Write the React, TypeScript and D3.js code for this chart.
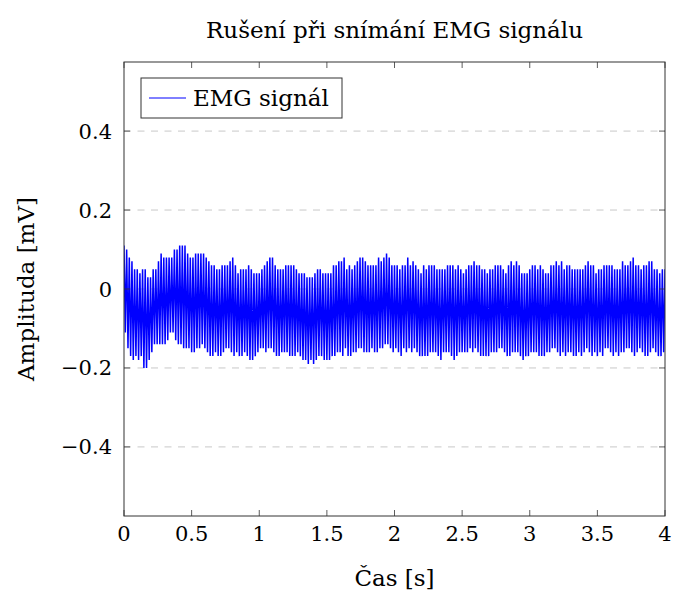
import React from 'react';
import * as d3 from 'd3';

// upper peaks of each 50 Hz cycle [mV]
const peaksTop = [
  0.11, 0.10, 0.08, 0.07, 0.05, 0.05, 0.04, 0.05, 0.05, 0.03, 0.03, 0.05, 0.05, 0.07, 0.09, 0.08, 0.08,
  0.08, 0.08, 0.10, 0.10, 0.11, 0.11, 0.11, 0.09, 0.08, 0.08, 0.09, 0.09, 0.09, 0.09, 0.08, 0.07, 0.06,
  0.06, 0.05, 0.05, 0.06, 0.06, 0.06, 0.07, 0.08, 0.06, 0.04, 0.05, 0.05, 0.05, 0.06, 0.05, 0.04, 0.04,
  0.04, 0.05, 0.06, 0.07, 0.08, 0.08, 0.06, 0.05, 0.05, 0.05, 0.06, 0.06, 0.06, 0.06, 0.05, 0.04, 0.04,
  0.04, 0.03, 0.03, 0.03, 0.04, 0.05, 0.05, 0.04, 0.04, 0.04, 0.04, 0.06, 0.06, 0.07, 0.07, 0.08, 0.05,
  0.06, 0.05, 0.06, 0.07, 0.08, 0.08, 0.07, 0.06, 0.06, 0.06, 0.06, 0.08, 0.07, 0.08, 0.09, 0.08, 0.06,
  0.06, 0.06, 0.05, 0.06, 0.06, 0.08, 0.06, 0.07, 0.06, 0.05, 0.04, 0.06, 0.05, 0.06, 0.06, 0.06, 0.05,
  0.05, 0.05, 0.05, 0.06, 0.06, 0.06, 0.05, 0.06, 0.05, 0.04, 0.05, 0.06, 0.06, 0.07, 0.06, 0.06, 0.05,
  0.05, 0.04, 0.05, 0.05, 0.06, 0.06, 0.06, 0.05, 0.04, 0.06, 0.07, 0.06, 0.07, 0.06, 0.04, 0.04, 0.04,
  0.05, 0.06, 0.06, 0.05, 0.06, 0.05, 0.04, 0.04, 0.06, 0.06, 0.07, 0.06, 0.07, 0.05, 0.06, 0.06, 0.05,
  0.05, 0.05, 0.05, 0.05, 0.06, 0.07, 0.06, 0.06, 0.04, 0.05, 0.05, 0.06, 0.06, 0.06, 0.06, 0.05, 0.05,
  0.05, 0.07, 0.06, 0.06, 0.07, 0.08, 0.06, 0.06, 0.05, 0.06, 0.06, 0.07, 0.07, 0.05, 0.05, 0.04, 0.05,
];

// lower peaks of each cycle [mV]
const peaksBottom = [
  -0.11, -0.15, -0.17, -0.18, -0.17, -0.18, -0.17, -0.20, -0.20, -0.18, -0.16, -0.14, -0.14, -0.14, -0.14, -0.14, -0.13,
  -0.11, -0.11, -0.13, -0.14, -0.14, -0.15, -0.15, -0.15, -0.16, -0.16, -0.15, -0.15, -0.14, -0.15, -0.16, -0.17, -0.17,
  -0.16, -0.17, -0.17, -0.16, -0.15, -0.15, -0.16, -0.17, -0.16, -0.17, -0.17, -0.16, -0.17, -0.18, -0.18, -0.17, -0.16,
  -0.15, -0.15, -0.16, -0.15, -0.15, -0.16, -0.17, -0.17, -0.16, -0.16, -0.16, -0.17, -0.17, -0.17, -0.16, -0.17, -0.18,
  -0.18, -0.19, -0.18, -0.19, -0.18, -0.17, -0.17, -0.18, -0.18, -0.18, -0.17, -0.17, -0.16, -0.16, -0.17, -0.15, -0.17,
  -0.17, -0.16, -0.16, -0.15, -0.15, -0.16, -0.16, -0.16, -0.15, -0.16, -0.16, -0.15, -0.15, -0.14, -0.14, -0.15, -0.16,
  -0.15, -0.16, -0.17, -0.15, -0.16, -0.15, -0.16, -0.15, -0.16, -0.17, -0.17, -0.17, -0.17, -0.16, -0.16, -0.16, -0.17,
  -0.18, -0.16, -0.16, -0.16, -0.17, -0.18, -0.17, -0.16, -0.16, -0.16, -0.16, -0.15, -0.16, -0.15, -0.16, -0.17, -0.17,
  -0.17, -0.17, -0.16, -0.16, -0.16, -0.15, -0.15, -0.16, -0.17, -0.17, -0.16, -0.16, -0.16, -0.17, -0.18, -0.17, -0.17,
  -0.16, -0.16, -0.16, -0.17, -0.17, -0.17, -0.16, -0.16, -0.15, -0.15, -0.16, -0.17, -0.16, -0.17, -0.16, -0.16, -0.17,
  -0.17, -0.16, -0.17, -0.16, -0.15, -0.16, -0.17, -0.16, -0.17, -0.16, -0.17, -0.15, -0.15, -0.16, -0.17, -0.16, -0.17,
  -0.16, -0.16, -0.15, -0.15, -0.16, -0.17, -0.16, -0.15, -0.16, -0.17, -0.17, -0.16, -0.15, -0.16, -0.17, -0.17, -0.16,
];

const xTicks = [0, 0.5, 1, 1.5, 2, 2.5, 3, 3.5, 4];
const yTicks = [-0.4, -0.2, 0, 0.2, 0.4];

const W = 673;
const H = 593;
const m = { left: 124, right: 8, top: 62, bottom: 77 };
const FONT = '"DejaVu Serif", "Liberation Serif", serif';
const FS = 21; // tick labels
const FL = 23; // title, axis labels, legend

const fmt = (v: number) => (v < 0 ? '\u2212' + String(-v) : String(v));

export default function App() {
  const x = d3.scaleLinear().domain([0, 4]).range([m.left, W - m.right]);
  const y = d3.scaleLinear().domain([-0.575, 0.575]).range([H - m.bottom, m.top]);

  // one top and one bottom sample per cycle, cycles spread evenly over 4 s
  const n = peaksTop.length;
  const dt = 4 / n;
  const pts: [number, number][] = [];
  peaksTop.forEach((v, i) => {
    pts.push([i * dt, v]);
    pts.push([(i + 0.5) * dt, peaksBottom[i]]);
  });
  pts.push([4, peaksTop[n - 1]]);

  const line = d3
    .line<[number, number]>()
    .x((d) => x(d[0]))
    .y((d) => y(d[1]));

  const [x0, x1] = x.range();
  const [y0, y1] = [y.range()[1], y.range()[0]];

  return (
    <svg width={W} height={H} style={{ position: 'absolute', left: 0, top: 0 }} fontFamily={FONT}>
      <rect width={W} height={H} fill="#fff" />
      <text x={(x0 + x1) / 2} y={38} textAnchor="middle" fontSize={FL}>
        Rušení při snímání EMG signálu
      </text>

      {yTicks.map((t) => (
        <line key={'g' + t} x1={x0} x2={x1} y1={y(t)} y2={y(t)} stroke="#c8c8c8" strokeWidth={1} strokeDasharray="7,6.5" />
      ))}

      <clipPath id="plotclip">
        <rect x={x0} y={y0} width={x1 - x0} height={y1 - y0} />
      </clipPath>
      <path d={line(pts) || ''} fill="none" stroke="#0000ff" strokeWidth={1.5} clipPath="url(#plotclip)" />

      {xTicks.map((t) => (
        <g key={'x' + t}>
          <line x1={x(t)} x2={x(t)} y1={y1} y2={y1 - 6} stroke="#333" strokeWidth={0.8} />
          <line x1={x(t)} x2={x(t)} y1={y0} y2={y0 + 6} stroke="#333" strokeWidth={0.8} />
          <text x={x(t)} y={y1 + 25} textAnchor="middle" fontSize={FS}>
            {fmt(t)}
          </text>
        </g>
      ))}
      {yTicks.map((t) => (
        <g key={'y' + t}>
          <line x1={x0} x2={x0 + 6} y1={y(t)} y2={y(t)} stroke="#333" strokeWidth={0.8} />
          <line x1={x1} x2={x1 - 6} y1={y(t)} y2={y(t)} stroke="#333" strokeWidth={0.8} />
          <text x={x0 - 12} y={y(t) + 7.5} textAnchor="end" fontSize={FS}>
            {fmt(t)}
          </text>
        </g>
      ))}
      <rect x={x0} y={y0} width={x1 - x0} height={y1 - y0} fill="none" stroke="#333" strokeWidth={1} />

      <text x={(x0 + x1) / 2} y={586} textAnchor="middle" fontSize={FL}>
        Čas [s]
      </text>
      <text transform={`translate(34,${(y0 + y1) / 2}) rotate(-90)`} textAnchor="middle" fontSize={FL}>
        Amplituda [mV]
      </text>

      <g transform="translate(141,78)">
        <rect width={201} height={40} fill="#fff" stroke="#333" strokeWidth={1} />
        <line x1={8} x2={45} y1={20} y2={20} stroke="#0000ff" strokeWidth={1} />
        <text x={52} y={28} fontSize={FL}>
          EMG signál
        </text>
      </g>
    </svg>
  );
}
